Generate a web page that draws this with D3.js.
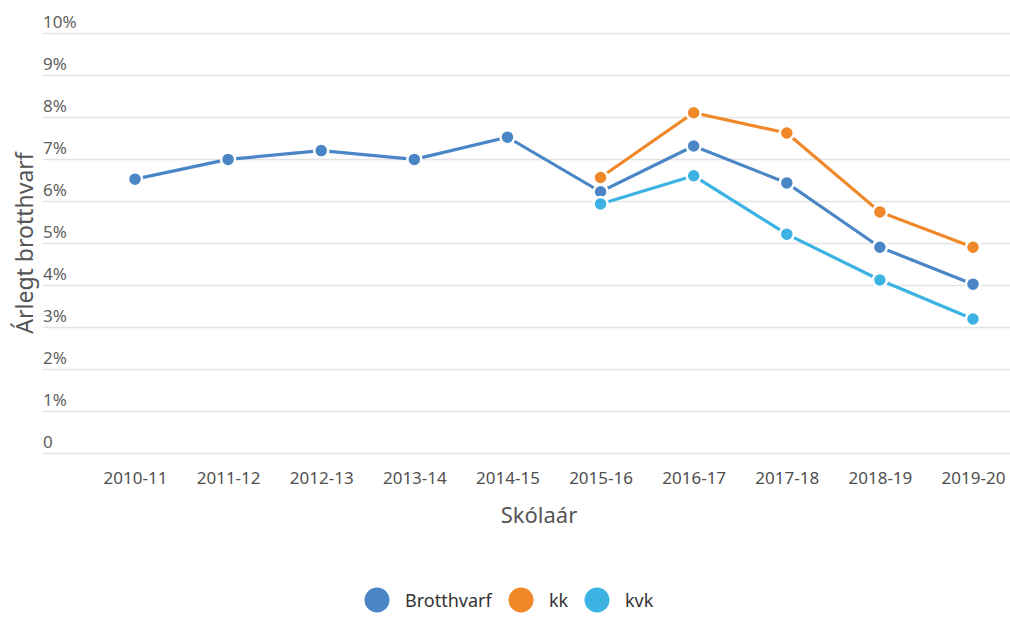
<!DOCTYPE html>
<html>
<head>
<meta charset="utf-8">
<script src="https://cdn.jsdelivr.net/npm/d3@7"></script>
<style>
  body { margin: 0; background: #fff; }
  svg { display: block; }
  svg text { font-family: "Noto Sans", "Open Sans", sans-serif; }
</style>
</head>
<body>
<div id="chart"></div>
<script>
// school years
var years = ["2010-11", "2011-12", "2012-13", "2013-14", "2014-15",
             "2015-16", "2016-17", "2017-18", "2018-19", "2019-20"];

// annual dropout, percent (null = no data)
var brotthvarf = [6.52, 6.99, 7.2, 6.99, 7.52, 6.22, 7.31, 6.43, 4.9, 4.02];
var kk = [null, null, null, null, null, 6.56, 8.1, 7.62, 5.74, 4.9];
var kvk = [null, null, null, null, null, 5.93, 6.6, 5.21, 4.12, 3.19];

var yTicks = [0, 1, 2, 3, 4, 5, 6, 7, 8, 9, 10];

var seriesNames = ["Brotthvarf", "kk", "kvk"];
var colors = ["#4a86c6", "#f0882a", "#3db3e3"];

var w = 1010,
    h = 617;

var svg = d3.select("#chart").append("svg")
    .attr("width", w)
    .attr("height", h);

var x = d3.scalePoint()
    .domain(years)
    .range([135, 973]);

var y = d3.scaleLinear()
    .domain([0, 10])
    .range([453, 33]);

// gridlines + y labels
var yAxis = svg.append("g")
    .attr("transform", "translate(43,0)")
    .call(d3.axisRight(y)
        .tickValues(yTicks)
        .tickSize(w - 43)
        .tickFormat(function(d) { return d === 0 ? "0" : d + "%"; }));
yAxis.select(".domain").remove();
yAxis.selectAll(".tick line")
    .attr("stroke", "#e3e3e3")
    .attr("stroke-width", 1.5);
yAxis.selectAll(".tick text")
    .attr("x", 0)
    .attr("dy", -6)
    .attr("text-anchor", "start")
    .attr("fill", "#5f5f5f")
    .attr("font-size", "17px");

// x labels
var xAxis = svg.append("g")
    .attr("transform", "translate(0,453)")
    .call(d3.axisBottom(x).tickSize(0).tickPadding(19));
xAxis.select(".domain").remove();
xAxis.selectAll(".tick text")
    .attr("fill", "#4f4f4f")
    .attr("font-size", "17px");

// axis titles
svg.append("text")
    .attr("x", 539)
    .attr("y", 523)
    .attr("text-anchor", "middle")
    .attr("fill", "#555")
    .attr("font-size", "22px")
    .text("Skólaár");

svg.append("text")
    .attr("transform", "translate(33,243) rotate(-90)")
    .attr("text-anchor", "middle")
    .attr("fill", "#555")
    .attr("font-size", "23px")
    .text("Árlegt brotthvarf");

// lines
var allSeries = [brotthvarf, kk, kvk];

var line = d3.line()
    .defined(function(d) { return d != null; })
    .x(function(d, i) { return x(years[i]); })
    .y(function(d) { return y(d); });

allSeries.forEach(function(vals, s) {
    svg.append("path")
        .datum(vals)
        .attr("fill", "none")
        .attr("stroke", colors[s])
        .attr("stroke-width", 3.2)
        .attr("d", line);
});

allSeries.forEach(function(vals, s) {
    svg.append("g").selectAll("circle")
        .data(vals.map(function(v, i) { return { v: v, yr: years[i] }; })
                  .filter(function(d) { return d.v != null; }))
        .enter()
        .append("circle")
        .attr("cx", function(d) { return x(d.yr); })
        .attr("cy", function(d) { return y(d.v); })
        .attr("r", 7)
        .attr("fill", colors[s])
        .attr("stroke", "#fff")
        .attr("stroke-width", 2.5);
});

// legend
var legendX = [377, 521, 597];
var legend = svg.append("g");
seriesNames.forEach(function(name, i) {
    legend.append("circle")
        .attr("cx", legendX[i])
        .attr("cy", 600)
        .attr("r", 12.5)
        .attr("fill", colors[i]);
    legend.append("text")
        .attr("x", legendX[i] + 28)
        .attr("y", 607)
        .attr("fill", "#333")
        .attr("font-size", "18px")
        .text(name);
});
</script>
</body>
</html>
